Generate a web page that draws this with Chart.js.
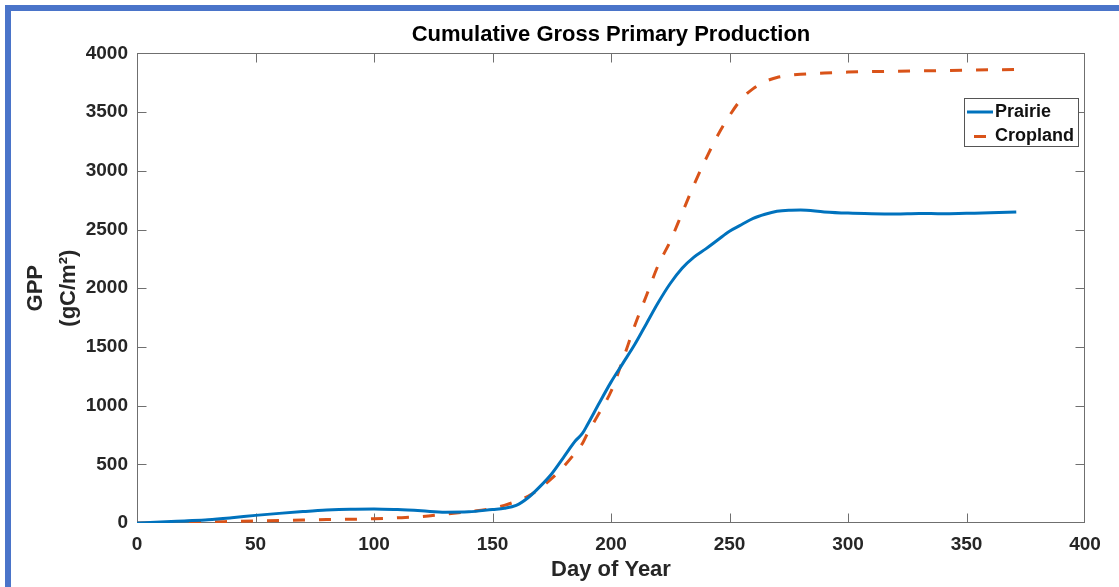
<!DOCTYPE html>
<html>
<head>
<meta charset="utf-8">
<title>Cumulative Gross Primary Production</title>
<script src="https://cdn.jsdelivr.net/npm/chart.js@4.4.1/dist/chart.umd.min.js"></script>
<style>
  html, body { margin: 0; padding: 0; background: #ffffff; overflow: hidden; }
  #frame {
    position: absolute; left: 5px; top: 5px; width: 1300px; height: 800px;
    border-top: 6px solid #4a74c9; border-left: 6px solid #4a74c9;
    box-sizing: border-box;
  }
  #wrap { position: absolute; left: 0; top: 0; width: 1119px; height: 587px; }
</style>
</head>
<body>
<div id="frame"></div>
<div id="wrap"><canvas id="gpp" width="1119" height="587"></canvas></div>
<script>
// Day-of-year sample points shared by both series
const days = [0, 10, 20, 30, 40, 50, 60, 70, 80, 90, 100, 110, 120, 130, 140, 150, 155, 160,
  165, 170, 175, 180, 185, 188, 190, 195, 200, 205, 210, 215, 220, 225, 230, 235, 240, 245,
  250, 255, 260, 265, 270, 275, 280, 290, 300, 310, 320, 330, 340, 350, 360, 371];

// Cumulative GPP (gC/m^2)
const prairie = [0, 8, 18, 28, 45, 65, 82, 97, 110, 118, 120, 114, 104, 92, 95, 115, 125, 150,
  215, 310, 420, 560, 700, 765, 835, 1020, 1200, 1360, 1520, 1700, 1880, 2040, 2170, 2265, 2335, 2410,
  2485, 2540, 2595, 2630, 2655, 2665, 2667, 2650, 2640, 2635, 2633, 2637, 2634, 2638, 2642, 2650];

const cropland = [0, 3, 6, 9, 13, 17, 21, 25, 29, 32, 36, 44, 55, 75, 97, 125, 150, 185,
  228, 295, 380, 480, 600, 680, 760, 936, 1120, 1390, 1680, 1940, 2200, 2400, 2640, 2880, 3100, 3300,
  3470, 3610, 3700, 3760, 3795, 3812, 3822, 3833, 3841, 3845, 3848, 3851, 3854, 3857, 3860, 3864];

const seriesNames = ['Prairie', 'Cropland'];
const xTicks = { min: 0, max: 400, step: 50 };
const yTicks = { min: 0, max: 4000, step: 500 };

const FONT = '"Liberation Sans", Arial, Helvetica, sans-serif';
const AXIS_COLOR = '#6f6f6f';
const TEXT_COLOR = '#262626';
const TICK_LEN = 9;

const toPoints = vals => days.map((d, i) => ({ x: d, y: vals[i] }));
const plainNumber = v => String(v);

// Center the chart title over the plot area rather than the whole canvas
const titleOverPlot = {
  id: 'titleOverPlot',
  afterLayout(chart) {
    const tb = chart.titleBlock;
    if (!tb) return;
    tb.left = chart.chartArea.left;
    tb.right = chart.chartArea.right;
    tb.width = tb.right - tb.left;
  }
};

// Box around the plot with inward tick marks on all four sides
const axesBox = {
  id: 'axesBox',
  beforeDatasetsDraw(chart) {
    const { ctx, chartArea: a, scales: { x, y } } = chart;
    const L = Math.round(a.left) + 0.5, R = Math.round(a.right) - 0.5;
    const T = Math.round(a.top) + 0.5, B = Math.round(a.bottom) - 0.5;
    ctx.save();
    ctx.strokeStyle = AXIS_COLOR;
    ctx.lineWidth = 1;
    ctx.beginPath();
    x.ticks.forEach(t => {
      const px = Math.round(x.getPixelForValue(t.value)) + 0.5;
      if (px <= L + 1 || px >= R - 1) return;
      ctx.moveTo(px, B); ctx.lineTo(px, B - TICK_LEN);
      ctx.moveTo(px, T); ctx.lineTo(px, T + TICK_LEN);
    });
    y.ticks.forEach(t => {
      const py = Math.round(y.getPixelForValue(t.value)) + 0.5;
      if (py <= T + 1 || py >= B - 1) return;
      ctx.moveTo(L, py); ctx.lineTo(L + TICK_LEN, py);
      ctx.moveTo(R, py); ctx.lineTo(R - TICK_LEN, py);
    });
    ctx.stroke();
    ctx.strokeRect(L, T, R - L, B - T);
    ctx.restore();
  }
};

// Boxed legend in the upper-right corner of the plot
const boxLegend = {
  id: 'boxLegend',
  afterDraw(chart) {
    const { ctx, chartArea: a } = chart;
    ctx.save();
    ctx.font = 'bold 18px ' + FONT;
    const widths = chart.data.datasets.map(ds => ctx.measureText(ds.label).width);
    const textOffset = 31, rowH = 24.5;
    const w = textOffset + Math.max(...widths) + 5;
    const h = 49;
    const right = Math.round(a.right) - 6;
    const left = right - w;
    const top = Math.round(a.top) + 45;
    ctx.fillStyle = '#ffffff';
    ctx.fillRect(left, top, w, h);
    ctx.strokeStyle = '#555555';
    ctx.lineWidth = 1;
    ctx.strokeRect(left + 0.5, top + 0.5, w - 1, h - 1);
    chart.data.datasets.forEach((ds, i) => {
      const cy = top + 14 + i * rowH;
      ctx.strokeStyle = ds.borderColor;
      ctx.lineWidth = ds.borderWidth;
      ctx.setLineDash(ds.borderDash || []);
      ctx.lineDashOffset = ds.borderDash ? 19 : 0;
      ctx.beginPath();
      ctx.moveTo(left + 3, cy);
      ctx.lineTo(left + 29, cy);
      ctx.stroke();
      ctx.setLineDash([]);
      ctx.fillStyle = '#111111';
      ctx.textBaseline = 'middle';
      ctx.textAlign = 'left';
      ctx.fillText(ds.label, left + textOffset, cy);
    });
    ctx.restore();
  }
};

new Chart(document.getElementById('gpp'), {
  type: 'line',
  data: {
    datasets: [
      {
        label: seriesNames[0],
        data: toPoints(prairie),
        borderColor: '#0072BD',
        borderWidth: 3,
        pointRadius: 0,
        fill: false,
        cubicInterpolationMode: 'monotone'
      },
      {
        label: seriesNames[1],
        data: toPoints(cropland),
        borderColor: '#D95319',
        borderWidth: 3,
        borderDash: [12, 14],
        pointRadius: 0,
        fill: false,
        cubicInterpolationMode: 'monotone'
      }
    ]
  },
  options: {
    responsive: false,
    devicePixelRatio: 1,
    animation: false,
    layout: { padding: { left: 0, right: 34, top: 0, bottom: 0 } },
    plugins: {
      legend: { display: false },
      tooltip: { enabled: false },
      title: {
        display: true,
        text: 'Cumulative Gross Primary Production',
        color: '#000000',
        font: { family: FONT, size: 22, weight: 'bold', lineHeight: 1.2 },
        padding: { top: 22, bottom: 5 }
      }
    },
    scales: {
      x: {
        type: 'linear',
        min: xTicks.min,
        max: xTicks.max,
        afterFit(scale) { scale.height = 64; },
        ticks: {
          stepSize: xTicks.step,
          callback: plainNumber,
          color: TEXT_COLOR,
          padding: 10,
          maxRotation: 0,
          font: { family: FONT, size: 19, weight: 'bold', lineHeight: 1.2 }
        },
        grid: { display: false, drawTicks: false },
        border: { display: false },
        title: {
          display: true,
          text: 'Day of Year',
          color: TEXT_COLOR,
          font: { family: FONT, size: 22, weight: 'bold', lineHeight: 1.2 },
          padding: { top: 0, bottom: 4 }
        }
      },
      y: {
        type: 'linear',
        min: yTicks.min,
        max: yTicks.max,
        afterFit(scale) { scale.width = 137; },
        ticks: {
          stepSize: yTicks.step,
          callback: plainNumber,
          color: TEXT_COLOR,
          padding: 9,
          font: { family: FONT, size: 19, weight: 'bold', lineHeight: 1.2 }
        },
        grid: { display: false, drawTicks: false },
        border: { display: false },
        title: {
          display: true,
          text: ['GPP', '(gC/m\u00B2)'],
          color: TEXT_COLOR,
          font: { family: FONT, size: 22, weight: 'bold', lineHeight: 1.52 },
          padding: { top: 19, bottom: 0 }
        }
      }
    }
  },
  plugins: [titleOverPlot, axesBox, boxLegend]
});
</script>
</body>
</html>
